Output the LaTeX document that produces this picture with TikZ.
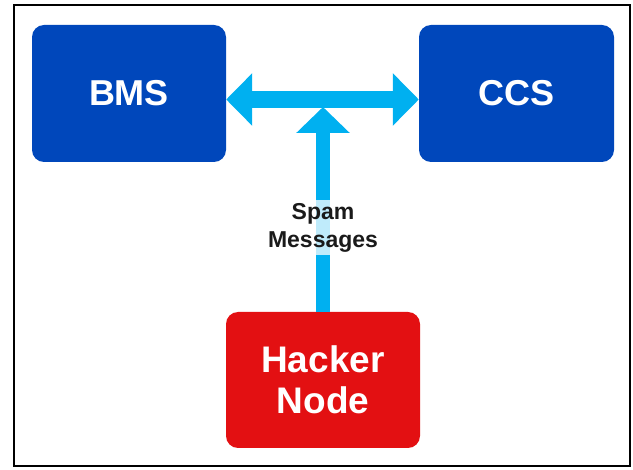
\documentclass[tikz,border=0pt]{standalone}
\usepackage{fontspec}
\setmainfont{Liberation Sans}
\usetikzlibrary{arrows.meta}
\definecolor{boxblue}{RGB}{0,71,187}
\definecolor{arrowcyan}{RGB}{0,176,240}
\definecolor{hackred}{RGB}{227,16,18}
\definecolor{labelgray}{RGB}{26,26,26}
\tikzset{
  sysbox/.style={rounded corners=12pt, minimum width=194pt, minimum height=137pt, inner sep=0pt, text=white, align=center},
  boxfont/.style={font=\fontsize{36}{41}\selectfont\bfseries},
  hackfont/.style={font=\fontsize{37}{41}\selectfont\bfseries},
  harrow/.style={draw=arrowcyan, line width=17pt, {Triangle[width=51pt,length=26pt]}-{Triangle[width=51pt,length=26pt]}},
  varrow/.style={draw=arrowcyan, line width=14pt, -{Triangle[width=52pt,length=26pt]}},
  spamlabel/.style={fill=white, fill opacity=0.75, text opacity=1, text=labelgray, inner sep=3pt, align=center, font=\fontsize{23}{28}\selectfont\bfseries}
}
\begin{document}
\begin{tikzpicture}[x=1pt,y=-1pt]
\useasboundingbox (0,0) rectangle (633,470);
\draw[line width=1.6pt] (14,5) rectangle (630,466);
\node[sysbox, boxfont, fill=boxblue] (BMS) at (129,93.5) {BMS};
\node[sysbox, boxfont, fill=boxblue, minimum width=195pt] (CCS) at (516.5,93.5) {CCS};
\node[sysbox, hackfont, fill=hackred, minimum height=136pt] (HN) at (323,380) {Hacker\\Node};
\draw[harrow] ([yshift=-6pt]BMS.east) -- ([yshift=-6pt]CCS.west);
\coordinate (J) at (323,107);
\draw[varrow] (HN.north) -- (J);
\node[spamlabel] (SL) at (323,227.5) {Spam\\Messages};
\end{tikzpicture}
\end{document}
